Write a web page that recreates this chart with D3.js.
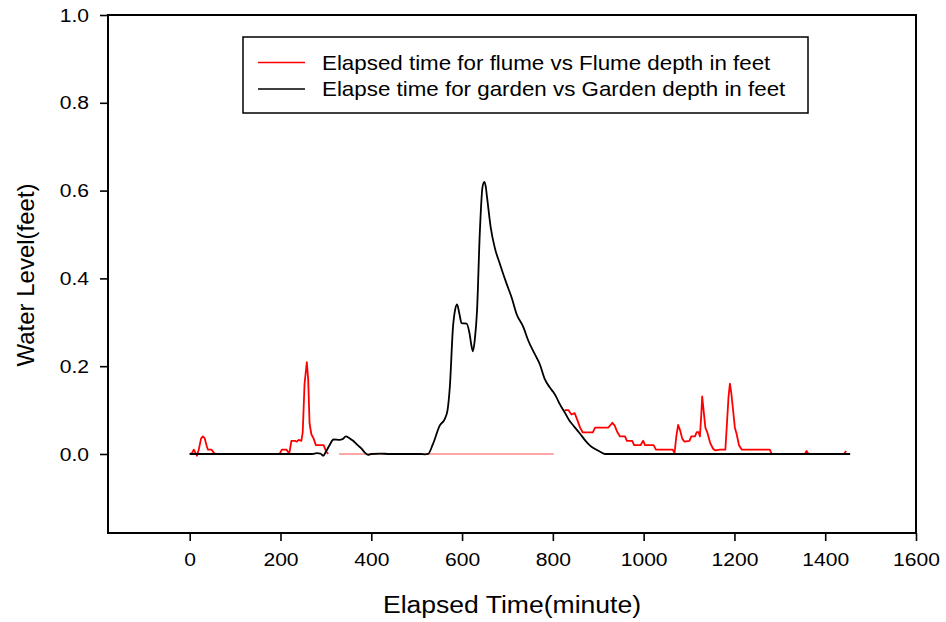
<!DOCTYPE html>
<html>
<head>
<meta charset="utf-8">
<script src="https://cdn.jsdelivr.net/npm/d3@7"></script>
<style>
  body { margin: 0; background: #fff; }
  text { font-family: "Liberation Sans", Arial, sans-serif; }
</style>
</head>
<body>
<svg id="chart"></svg>
<script>
// flume series (red): elapsed minutes and depth in feet, null = gap
const flumeTime = [0, 5, 9, 13, 16, 20, 25, 29, 33, 37, 40, 48, 52, 56, 198, 203, 213, 218, 220, 224, 232, 236, 240, 246, 249, 253, 258, 261, 264, 268, 273, 278, 295, 301, 305,
  310,
  826, 834, 841, 848, 853, 860, 866, 888, 893, 922, 927, 931, 936, 942, 948, 959, 963, 975, 979, 993, 999, 1003, 1022, 1027, 1064, 1068, 1072, 1076, 1080, 1085, 1090, 1101, 1105, 1113, 1117, 1121, 1124, 1127, 1129, 1132, 1136, 1140, 1147, 1153, 1158, 1168, 1180, 1183, 1187, 1190, 1193, 1197, 1201, 1205, 1210, 1216, 1278, 1282, 1355, 1359, 1363, 1441, 1446];
const flumeDepth = [0, 0.002, 0.01, 0.002, -0.004, 0.01, 0.035, 0.04, 0.036, 0.02, 0.01, 0.01, 0.004, 0, 0, 0.01, 0.01, 0.003, 0.005, 0.03, 0.03, 0.028, 0.032, 0.03, 0.05, 0.16, 0.209, 0.17, 0.07, 0.045, 0.035, 0.02, 0.02, 0.005, 0,
  null,
  0.1, 0.1, 0.09, 0.093, 0.08, 0.06, 0.049, 0.049, 0.06, 0.06, 0.066, 0.071, 0.065, 0.05, 0.04, 0.04, 0.03, 0.03, 0.02, 0.02, 0.03, 0.02, 0.02, 0.01, 0.01, 0.002, 0.04, 0.066, 0.055, 0.035, 0.028, 0.03, 0.04, 0.04, 0.05, 0.05, 0.04, 0.09, 0.131, 0.1, 0.06, 0.05, 0.024, 0.012, 0.008, 0.01, 0.01, 0.06, 0.13, 0.16, 0.14, 0.1, 0.06, 0.045, 0.02, 0.01, 0.01, 0, 0, 0.007, 0, 0, 0.007];

// thin flume baseline drawn under the garden peak
const flumeBaseTime = [329, 802];
const flumeBaseDepth = [0, 0];

// garden series (black)
const gardenTime = [0, 270, 280, 288, 294, 300, 308, 317, 330, 337, 344, 352, 360, 370, 378, 386, 393, 400, 420, 440, 510, 518, 525, 536, 551, 562, 568, 573, 580, 585, 589, 594, 599, 610, 616, 621, 624, 628, 633, 639, 645, 649, 652, 655, 663, 672, 683, 698, 709, 720, 735, 746, 764, 771, 782, 793, 801, 808, 815, 826, 837, 845, 860, 872, 882, 895, 904, 915, 1455];
const gardenDepth = [0, 0, 0.002, 0.001, -0.004, 0.005, 0.02, 0.033, 0.032, 0.034, 0.04, 0.036, 0.03, 0.02, 0.013, 0.003, -0.002, 0, 0.001, 0, 0, -0.001, 0, 0.023, 0.065, 0.08, 0.1, 0.152, 0.289, 0.33, 0.341, 0.32, 0.298, 0.297, 0.277, 0.245, 0.234, 0.26, 0.327, 0.502, 0.608, 0.62, 0.61, 0.585, 0.517, 0.47, 0.434, 0.388, 0.357, 0.319, 0.289, 0.258, 0.22, 0.205, 0.171, 0.152, 0.141, 0.129, 0.114, 0.095, 0.075, 0.065, 0.046, 0.03, 0.019, 0.01, 0.005, 0, 0];

const xTicks = [0, 200, 400, 600, 800, 1000, 1200, 1400, 1600];
const yTicks = [0, 0.2, 0.4, 0.6, 0.8, 1.0];
const legendLabels = ["Elapsed time for flume vs Flume depth in feet", "Elapse time for garden vs Garden depth in feet"];

const width = 946, height = 622;
const plotLeft = 108, plotRight = 916, plotTop = 15, plotBottom = 533;

const svg = d3.select("#chart").attr("width", width).attr("height", height);

const x = d3.scaleLinear().domain([-180, 1600]).range([plotLeft, plotRight]);
const y = d3.scaleLinear().domain([-0.18, 1.0]).range([plotBottom, plotTop]);

const zip = (ts, vs) => ts.map((t, i) => ({ t: t, v: vs[i] }));

const line = d3.line()
    .defined(d => d.v !== null)
    .x(d => x(d.t))
    .y(d => y(d.v));

// flume
svg.append("path")
    .datum(zip(flumeBaseTime, flumeBaseDepth))
    .attr("d", line)
    .attr("fill", "none")
    .attr("stroke", "#ff2020")
    .attr("stroke-opacity", 0.8)
    .attr("stroke-width", 1.1);

svg.append("path")
    .datum(zip(flumeTime, flumeDepth))
    .attr("d", line)
    .attr("fill", "none")
    .attr("stroke", "#ff0000")
    .attr("stroke-width", 1.8)
    .attr("stroke-linejoin", "round");

// garden
svg.append("path")
    .datum(zip(gardenTime, gardenDepth))
    .attr("d", line.curve(d3.curveMonotoneX))
    .attr("fill", "none")
    .attr("stroke", "#000")
    .attr("stroke-width", 1.8);

// axes
const xAxis = svg.append("g")
    .attr("transform", `translate(0,${plotBottom})`)
    .call(d3.axisBottom(x).tickValues(xTicks).tickSize(8).tickPadding(12).tickFormat(d3.format("d")));
const yAxis = svg.append("g")
    .attr("transform", `translate(${plotLeft},0)`)
    .call(d3.axisLeft(y).tickValues(yTicks).tickSize(8).tickPadding(11).tickFormat(d3.format(".1f")));

[xAxis, yAxis].forEach(g => {
    g.select(".domain").remove();
    g.selectAll(".tick line").attr("stroke", "#000").attr("stroke-width", 1.6);
    g.selectAll(".tick text")
        .attr("fill", "#000")
        .style("font-size", "19px")
        .style("font-family", "'Liberation Sans', Arial, sans-serif");
});
// the source renders its text a little wide
xAxis.selectAll(".tick text").attr("transform", "scale(1.11,1)");
yAxis.selectAll(".tick text").attr("transform", "translate(-19,0) scale(1.11,1)").attr("x", 0);

svg.append("rect")
    .attr("x", plotLeft).attr("y", plotTop)
    .attr("width", plotRight - plotLeft).attr("height", plotBottom - plotTop)
    .attr("fill", "none")
    .attr("stroke", "#000")
    .attr("stroke-width", 2);

// axis titles
svg.append("text")
    .attr("transform", "translate(512,613) scale(1.13,1)")
    .attr("text-anchor", "middle")
    .style("font-size", "23.5px")
    .text("Elapsed Time(minute)");

svg.append("text")
    .attr("transform", "translate(34,275) rotate(-90)")
    .attr("text-anchor", "middle")
    .style("font-size", "24px")
    .text("Water Level(feet)");

// legend
const legend = svg.append("g");
legend.append("rect")
    .attr("x", 243).attr("y", 37)
    .attr("width", 565).attr("height", 76)
    .attr("fill", "#fff")
    .attr("stroke", "#000")
    .attr("stroke-width", 1.5);

const legendColors = ["#ff0000", "#000"];
legendLabels.forEach((label, i) => {
    const ly = 62.5 + i * 26.5;
    legend.append("line")
        .attr("x1", 258).attr("x2", 305)
        .attr("y1", ly).attr("y2", ly)
        .attr("stroke", legendColors[i])
        .attr("stroke-width", 1.5);
    legend.append("text")
        .attr("transform", `translate(322,${ly + 7.3}) scale(1.08,1)`)
        .style("font-size", "20.7px")
        .text(label);
});
</script>
</body>
</html>
